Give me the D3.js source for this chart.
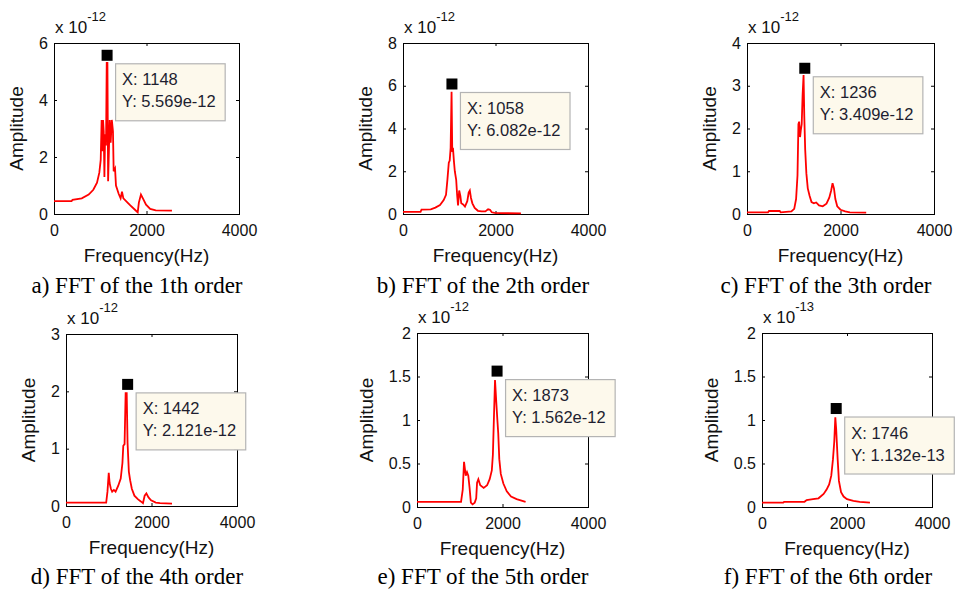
<!DOCTYPE html>
<html>
<head>
<meta charset="utf-8">
<script src="https://cdn.jsdelivr.net/npm/d3@7"></script>
<style>
  body { margin: 0; background: #fff; }
  svg { display: block; }
  .tick text { font-family: "Liberation Sans", Arial, sans-serif; font-size: 16px; fill: #111; }
  .tick line { stroke: #000; }
  .axis-label { font-family: "Liberation Sans", Arial, sans-serif; font-size: 19px; fill: #111; }
  .expo { font-family: "Liberation Sans", Arial, sans-serif; font-size: 17px; fill: #111; }
  .caption { font-family: "Liberation Serif", "Times New Roman", serif; font-size: 23px; fill: #000; }
  .tip-text { font-family: "Liberation Sans", Arial, sans-serif; font-size: 16.5px; fill: #1e1e30; }
</style>
</head>
<body>
<svg id="fig" width="958" height="593"></svg>
<script>
// Six FFT amplitude spectra (orders 1-6), MATLAB style subplots with data tips.

const CAPTIONS = [
  "a) FFT of the 1th order", "b) FFT of the 2th order", "c) FFT of the 3th order",
  "d) FFT of the 4th order", "e) FFT of the 5th order", "f) FFT of the 6th order"
];
const X_TICKS = [0, 2000, 4000];
const Y_TICKS = [
  [0, 2, 4, 6],
  [0, 2, 4, 6, 8],
  [0, 1, 2, 3, 4],
  [0, 1, 2, 3],
  [0, 0.5, 1, 1.5, 2],
  [0, 0.5, 1, 1.5, 2]
];
const EXPONENTS = [-12, -12, -12, -12, -12, -13];
const TIP_X = [1148, 1058, 1236, 1442, 1873, 1746];
const TIP_Y = [5.569, 6.082, 3.409, 2.121, 1.562, 1.132]; // in units of 10^EXPONENT

// [frequency Hz, amplitude in units of 10^EXPONENT]
const SPECTRUM_1 = [
  [0,0.45],[380,0.45],[400,0.5],[600,0.55],[750,0.68],[850,0.85],[930,1.1],[980,1.45],
  [1010,1.9],[1030,3.3],[1045,2.2],[1060,3.3],[1075,2.9],[1090,1.3],[1105,2.8],[1125,2.4],
  [1140,5.3],[1155,5.3],[1170,1.15],[1190,2.4],[1205,3.3],[1225,2.5],[1250,3.3],[1275,2.9],
  [1290,1.5],[1320,1.6],[1340,1.0],[1400,0.7],[1440,0.55],[1470,0.78],[1500,0.55],[1580,0.42],
  [1650,0.3],[1750,0.15],[1810,0.06],[1835,0.4],[1880,0.68],[1930,0.52],[1990,0.33],
  [2080,0.18],[2200,0.13],[2550,0.12]
];
const SPECTRUM_2 = [
  [0,0.1],[380,0.1],[400,0.2],[600,0.22],[700,0.3],[800,0.42],[880,0.65],[930,0.9],
  [960,1.6],[990,2.4],[1010,2.5],[1030,3.1],[1050,5.72],[1065,2.9],[1080,3.1],[1100,2.5],
  [1120,2.0],[1150,1.6],[1170,0.9],[1190,0.4],[1215,1.1],[1240,0.85],[1260,0.5],[1300,0.45],
  [1340,0.35],[1390,0.6],[1420,1.0],[1445,1.1],[1470,0.75],[1500,0.5],[1550,0.28],[1620,0.15],
  [1700,0.12],[1780,0.12],[1840,0.22],[1880,0.2],[1920,0.08],[1980,0.05],[2100,0.04],[2550,0.03]
];
const SPECTRUM_3 = [
  [0,0.04],[450,0.04],[470,0.07],[700,0.07],[720,0.04],[950,0.06],[1010,0.12],[1050,0.35],
  [1080,0.9],[1100,2.1],[1115,2.16],[1135,1.8],[1150,1.95],[1170,2.1],[1190,2.8],[1210,3.25],
  [1225,2.3],[1245,1.5],[1270,0.95],[1300,0.6],[1340,0.42],[1380,0.28],[1430,0.25],[1480,0.27],
  [1540,0.2],[1620,0.18],[1700,0.24],[1760,0.38],[1800,0.55],[1830,0.72],[1860,0.6],[1890,0.35],
  [1930,0.18],[2000,0.1],[2100,0.06],[2200,0.04],[2550,0.03]
];
const SPECTRUM_4 = [
  [0,0.06],[940,0.06],[970,0.25],[1000,0.58],[1020,0.4],[1050,0.3],[1080,0.25],[1120,0.28],
  [1160,0.25],[1220,0.35],[1280,0.48],[1320,0.75],[1340,1.05],[1370,1.08],[1395,1.97],[1420,1.97],
  [1440,1.1],[1470,0.6],[1500,0.45],[1540,0.3],[1600,0.18],[1680,0.12],[1750,0.08],[1800,0.05],
  [1840,0.18],[1880,0.22],[1930,0.15],[1990,0.1],[2100,0.06],[2200,0.05],[2480,0.04]
];
const SPECTRUM_5 = [
  [0,0.06],[1030,0.06],[1070,0.2],[1100,0.52],[1140,0.36],[1170,0.4],[1200,0.36],[1230,0.22],
  [1260,0.05],[1300,0.03],[1350,0.05],[1385,0.1],[1405,0.28],[1435,0.32],[1480,0.25],[1560,0.22],
  [1640,0.25],[1700,0.32],[1750,0.42],[1775,0.6],[1795,0.95],[1825,1.46],[1855,1.2],[1880,1.0],
  [1900,0.85],[1925,0.55],[1960,0.38],[2020,0.27],[2100,0.18],[2200,0.12],[2330,0.09],[2540,0.06]
];
const SPECTRUM_6 = [
  [0,0.05],[500,0.05],[520,0.06],[1000,0.06],[1050,0.08],[1200,0.09],[1330,0.1],[1450,0.15],
  [1520,0.2],[1580,0.26],[1630,0.36],[1670,0.55],[1700,0.75],[1725,1.03],[1745,0.9],[1760,0.75],
  [1780,0.55],[1810,0.3],[1860,0.17],[1920,0.12],[2000,0.09],[2150,0.07],[2300,0.06],[2540,0.05]
];
const SPECTRA = [SPECTRUM_1, SPECTRUM_2, SPECTRUM_3, SPECTRUM_4, SPECTRUM_5, SPECTRUM_6];

// Axes boxes in page pixels and caption placement
const LAYOUT = [
  { x0: 54,  x1: 239, y0: 43,  y1: 214, cx: 137, cy: 293 },
  { x0: 403, x1: 588, y0: 43,  y1: 214, cx: 483, cy: 293 },
  { x0: 747, x1: 934, y0: 43,  y1: 214, cx: 826, cy: 293 },
  { x0: 66,  x1: 237, y0: 334, y1: 506, cx: 137, cy: 584 },
  { x0: 417, x1: 588, y0: 333, y1: 507, cx: 483, cy: 584 },
  { x0: 762, x1: 932, y0: 333, y1: 507, cx: 828, cy: 584 }
];

const svg = d3.select("#fig");

SPECTRA.forEach((data, i) => {
  const L = LAYOUT[i];
  const yt = Y_TICKS[i];
  const x = d3.scaleLinear().domain([0, 4000]).range([L.x0, L.x1]);
  const y = d3.scaleLinear().domain([0, yt[yt.length - 1]]).range([L.y1, L.y0]);
  const g = svg.append("g").attr("class", "panel");

  // inward ticks on all four sides
  const yAxis = g.append("g").attr("transform", `translate(${L.x0},0)`)
    .call(d3.axisLeft(y).tickValues(yt).tickSize(-3).tickPadding(6).tickFormat(d3.format("")));
  g.append("g").attr("transform", `translate(${L.x1},0)`)
    .call(d3.axisRight(y).tickValues(yt).tickSize(-3).tickFormat(""));
  g.append("g").attr("transform", `translate(0,${L.y1})`)
    .call(d3.axisBottom(x).tickValues(X_TICKS).tickSize(-3).tickPadding(11).tickFormat(d3.format("")));
  g.append("g").attr("transform", `translate(0,${L.y0})`)
    .call(d3.axisTop(x).tickValues(X_TICKS).tickSize(-3).tickFormat(""));
  g.selectAll(".domain").remove();

  g.append("rect")
    .attr("x", L.x0 + 0.5).attr("y", L.y0 + 0.5)
    .attr("width", L.x1 - L.x0).attr("height", L.y1 - L.y0)
    .attr("fill", "none").attr("stroke", "#000").attr("stroke-width", 1);

  // spectrum line
  g.append("path")
    .datum(data)
    .attr("fill", "none")
    .attr("stroke", "#ff0000")
    .attr("stroke-width", 1.8)
    .attr("stroke-linejoin", "miter")
    .attr("d", d3.line().x(d => x(d[0])).y(d => y(d[1])));

  // exponent label
  const ex = g.append("text").attr("class", "expo")
    .attr("x", L.x0 + 1).attr("y", L.y0 - 10);
  ex.append("tspan").text("x 10");
  ex.append("tspan").attr("dy", -12).attr("font-size", 13).text(EXPONENTS[i]);

  // axis labels
  const yb = yAxis.node().getBBox();
  g.append("text").attr("class", "axis-label")
    .attr("text-anchor", "middle")
    .attr("transform", `translate(${L.x0 + yb.x - 16},${(L.y0 + L.y1) / 2}) rotate(-90)`)
    .text("Amplitude");
  g.append("text").attr("class", "axis-label")
    .attr("text-anchor", "middle")
    .attr("x", (L.x0 + L.x1) / 2).attr("y", L.y1 + 48)
    .text("Frequency(Hz)");

  // data tip
  const px = x(TIP_X[i]), py = y(TIP_Y[i]);
  g.append("rect")
    .attr("x", px - 5.5).attr("y", py - 5.5)
    .attr("width", 11).attr("height", 11)
    .attr("fill", "#000");

  const tip = g.append("g").attr("transform", `translate(${px + 8},${py + 8})`);
  const box = tip.append("rect").attr("fill", "#fdf9ec").attr("stroke", "#b4b4b4").attr("stroke-width", 1.2);
  const t1 = tip.append("text").attr("class", "tip-text").attr("x", 7).attr("y", 22)
    .text(`X: ${TIP_X[i]}`);
  const t2 = tip.append("text").attr("class", "tip-text").attr("x", 7).attr("y", 44)
    .text(`Y: ${TIP_Y[i].toFixed(3)}e${EXPONENTS[i]}`);
  const w = Math.max(t1.node().getComputedTextLength(), t2.node().getComputedTextLength()) + 16;
  box.attr("x", 0.5).attr("y", 0.5).attr("width", w).attr("height", 57);

  // caption
  svg.append("text").attr("class", "caption")
    .attr("text-anchor", "middle")
    .attr("x", L.cx).attr("y", L.cy)
    .text(CAPTIONS[i]);
});
</script>
</body>
</html>
